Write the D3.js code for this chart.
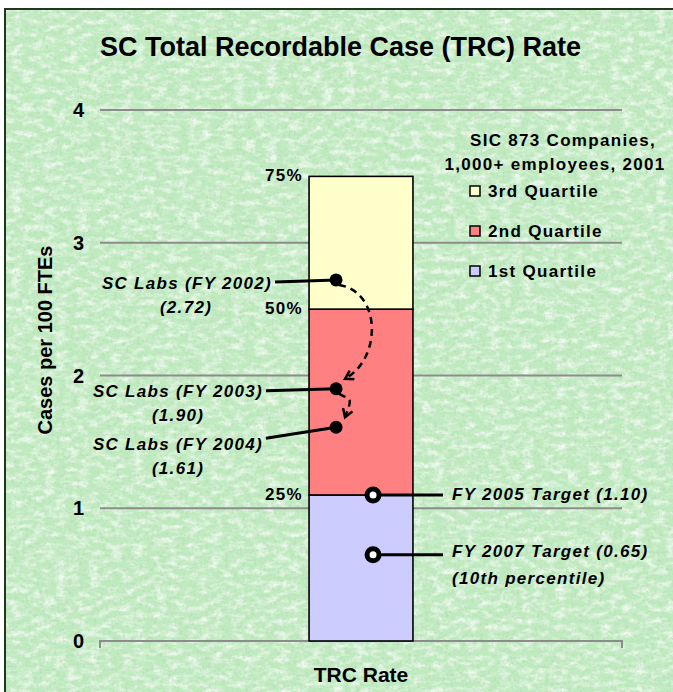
<!DOCTYPE html>
<html>
<head>
<meta charset="utf-8">
<script src="https://cdn.jsdelivr.net/npm/d3@7"></script>
<style>
  html, body { margin: 0; padding: 0; background: #fff; overflow: hidden; }
  svg { display: block; }
  text { font-family: "Liberation Sans", Arial, sans-serif; font-weight: bold; fill: #000; }
  .lbl { font-size: 17px; letter-spacing: 1.3px; }
  .it { font-style: italic; }
</style>
</head>
<body>
<script>
// chart values
var category = ["TRC Rate"]
var yTicks = [0, 1, 2, 3, 4]
var quartileNames = ["1st Quartile", "2nd Quartile", "3rd Quartile"]
var quartileBounds = [0, 1.10, 2.50, 3.50]
var quartileColors = ["#ccccff", "#ff8080", "#ffffcc"]
var percentLabels = ["25%", "50%", "75%"]
var labYears = ["FY 2002", "FY 2003", "FY 2004"]
var labValues = [2.72, 1.90, 1.61]
var targetYears = ["FY 2005", "FY 2007"]
var targetValues = [1.10, 0.65]
var targetNotes = ["", "(10th percentile)"]

// label placement relative to each point (layout only)
var labLayout = [
  { right: 272, dy: 9, valueX: 186, leadDy: 2 },
  { right: 263, dy: 8, valueX: 178, leadDy: 2 },
  { right: 263, dy: 23, valueX: 178, leadDy: 11 }
]
var targetLayout = [{ dy: 5 }, { dy: 2 }]

var W = 673, H = 692
var svg = d3.select("body").append("svg").attr("width", W).attr("height", H)

var defs = svg.append("defs")
// paper grain
var f = defs.append("filter").attr("id", "paper")
  .attr("x", 0).attr("y", 0).attr("width", 1).attr("height", 1)
f.append("feTurbulence").attr("type", "fractalNoise")
  .attr("baseFrequency", "0.09 0.16").attr("numOctaves", 3).attr("seed", 11)
f.append("feColorMatrix").attr("type", "matrix")
  .attr("values", "0 0 0 0 1  0 0 0 0 1  0 0 0 0 1  1.8 0 0 0 -0.75")
f.append("feComposite").attr("in2", "SourceGraphic").attr("operator", "in")

var f2 = defs.append("filter").attr("id", "grain")
  .attr("x", 0).attr("y", 0).attr("width", 1).attr("height", 1)
f2.append("feTurbulence").attr("type", "fractalNoise")
  .attr("baseFrequency", "0.35").attr("numOctaves", 2).attr("seed", 3)
f2.append("feColorMatrix").attr("type", "matrix")
  .attr("values", "0 0 0 0 0.45  0 0 0 0 0.62  0 0 0 0 0.45  -1.4 0 0 0 0.72")
f2.append("feComposite").attr("in2", "SourceGraphic").attr("operator", "in")

defs.append("marker").attr("id", "arr")
  .attr("markerUnits", "userSpaceOnUse")
  .attr("markerWidth", 14).attr("markerHeight", 14)
  .attr("refX", 9).attr("refY", 6).attr("orient", "auto")
  .append("path").attr("d", "M1,1 L9,6 L1,11")
  .attr("fill", "none").attr("stroke", "#000").attr("stroke-width", 2.5)

// background + frame (open to the right and bottom, as cropped)
var bg = { x: 5, y: 9, w: W - 5, h: H - 9 }
svg.append("rect").attr("x", bg.x).attr("y", bg.y).attr("width", bg.w).attr("height", bg.h)
  .attr("fill", "#c0ebc0")
svg.append("rect").attr("x", bg.x).attr("y", bg.y).attr("width", bg.w).attr("height", bg.h)
  .attr("fill", "#fff").attr("filter", "url(#paper)")
svg.append("rect").attr("x", bg.x).attr("y", bg.y).attr("width", bg.w).attr("height", bg.h)
  .attr("fill", "#fff").attr("filter", "url(#grain)")
svg.append("path").attr("d", "M" + bg.x + "," + H + "V" + bg.y + "H" + W)
  .attr("fill", "none").attr("stroke", "#203820").attr("stroke-width", 2)

// scales
var x = d3.scaleBand().domain(category).range([100, 622]).padding(0.668)
var y = d3.scaleLinear().domain([0, 4]).range([641, 110])
var x0 = x(category[0]), bw = x.bandwidth()

// title
svg.append("text").attr("x", 100).attr("y", 56)
  .style("font-size", "27px").text("SC Total Recordable Case (TRC) Rate")

// gridlines
svg.append("g").selectAll("line")
  .data(yTicks.filter(function(d) { return d > 0 }))
  .enter().append("line")
  .attr("x1", 100).attr("x2", 622)
  .attr("y1", function(d) { return y(d) }).attr("y2", function(d) { return y(d) })
  .attr("stroke", "#8c8c8c").attr("stroke-width", 2)

// base axis
svg.append("path")
  .attr("d", "M100," + (y(0) + 7) + "V" + y(0) + "H622V" + (y(0) + 7))
  .attr("fill", "none").attr("stroke", "#8c8c8c").attr("stroke-width", 2)

svg.append("g").selectAll("text").data(yTicks).enter().append("text")
  .attr("x", 84).attr("y", function(d) { return y(d) })
  .attr("dy", "0.35em").attr("text-anchor", "end")
  .style("font-size", "20px").text(function(d) { return d })

svg.append("text").attr("transform", "translate(52,340) rotate(-90)")
  .attr("text-anchor", "middle").style("font-size", "20px").text("Cases per 100 FTEs")

svg.append("text").attr("x", x0 + bw / 2).attr("y", 682)
  .attr("text-anchor", "middle").style("font-size", "21px").text(category[0])

// stacked quartile bar
svg.append("g").selectAll("rect").data(quartileNames).enter().append("rect")
  .attr("x", x0).attr("width", bw)
  .attr("y", function(d, i) { return y(quartileBounds[i + 1]) })
  .attr("height", function(d, i) { return y(quartileBounds[i]) - y(quartileBounds[i + 1]) })
  .attr("fill", function(d, i) { return quartileColors[i] })
  .attr("stroke", "#000").attr("stroke-width", 1.6)

svg.append("g").selectAll("text").data(percentLabels).enter().append("text")
  .attr("class", "lbl").attr("text-anchor", "end")
  .attr("x", x0 - 6).attr("y", function(d, i) { return y(quartileBounds[i + 1]) + 5 })
  .text(function(d) { return d })

// legend
var lg = svg.append("g")
lg.append("text").attr("class", "lbl").attr("x", 563).attr("y", 146)
  .attr("text-anchor", "middle").text("SIC 873 Companies,")
lg.append("text").attr("class", "lbl").attr("x", 555).attr("y", 170)
  .attr("text-anchor", "middle").text("1,000+ employees, 2001")
var items = lg.selectAll("g.item").data(quartileNames.slice().reverse()).enter()
  .append("g").attr("class", "item")
  .attr("transform", function(d, i) { return "translate(470," + (191 + i * 40) + ")" })
items.append("rect").attr("x", 0).attr("y", -5).attr("width", 10).attr("height", 10)
  .attr("fill", function(d) { return quartileColors[quartileNames.indexOf(d)] })
  .attr("stroke", "#000").attr("stroke-width", 1.5)
items.append("text").attr("class", "lbl").attr("x", 18).attr("y", 6)
  .text(function(d) { return d })

// dashed arrows between lab years
var px = x0 + 27
var arrows = svg.append("g")
d3.range(labValues.length - 1).forEach(function(i) {
  var ya = y(labValues[i]), yb = y(labValues[i + 1])
  var bulge = (yb - ya) * 0.42
  var p = d3.path()
  p.moveTo(px + 3, ya + 5)
  p.bezierCurveTo(px + bulge, ya + 12, px + bulge, yb - 30, px + 9, yb - 10)
  arrows.append("path").attr("d", p.toString())
    .attr("fill", "none").attr("stroke", "#000").attr("stroke-width", 2.5)
    .attr("stroke-dasharray", "7,5").attr("marker-end", "url(#arr)")
})

// lab points with labels
var labs = svg.append("g").selectAll("g").data(labValues).enter().append("g")
labs.append("line")
  .attr("x1", function(d, i) { return labLayout[i].right + 3 })
  .attr("y1", function(d, i) { return y(d) + labLayout[i].leadDy })
  .attr("x2", px).attr("y2", function(d) { return y(d) })
  .attr("stroke", "#000").attr("stroke-width", 3)
labs.append("circle").attr("cx", px).attr("cy", function(d) { return y(d) })
  .attr("r", 6.5).attr("fill", "#000")
labs.append("text").attr("class", "lbl it").attr("text-anchor", "end")
  .attr("x", function(d, i) { return labLayout[i].right })
  .attr("y", function(d, i) { return y(d) + labLayout[i].dy })
  .text(function(d, i) { return "SC Labs (" + labYears[i] + ")" })
labs.append("text").attr("class", "lbl it").attr("text-anchor", "middle")
  .attr("x", function(d, i) { return labLayout[i].valueX })
  .attr("y", function(d, i) { return y(d) + labLayout[i].dy + 24 })
  .text(function(d) { return "(" + d.toFixed(2) + ")" })

// targets
var tx = x0 + 64
var tg = svg.append("g").selectAll("g").data(targetValues).enter().append("g")
tg.append("line").attr("x1", tx).attr("x2", 443)
  .attr("y1", function(d) { return y(d) }).attr("y2", function(d) { return y(d) })
  .attr("stroke", "#000").attr("stroke-width", 3)
tg.append("circle").attr("cx", tx).attr("cy", function(d) { return y(d) })
  .attr("r", 6).attr("fill", "#fff").attr("stroke", "#000").attr("stroke-width", 5)
tg.append("text").attr("class", "lbl it").attr("x", 452)
  .attr("y", function(d, i) { return y(d) + targetLayout[i].dy })
  .text(function(d, i) { return targetYears[i] + " Target (" + d.toFixed(2) + ")" })
tg.append("text").attr("class", "lbl it").attr("x", 452)
  .attr("y", function(d, i) { return y(d) + targetLayout[i].dy + 27 })
  .text(function(d, i) { return targetNotes[i] })
</script>
</body>
</html>
